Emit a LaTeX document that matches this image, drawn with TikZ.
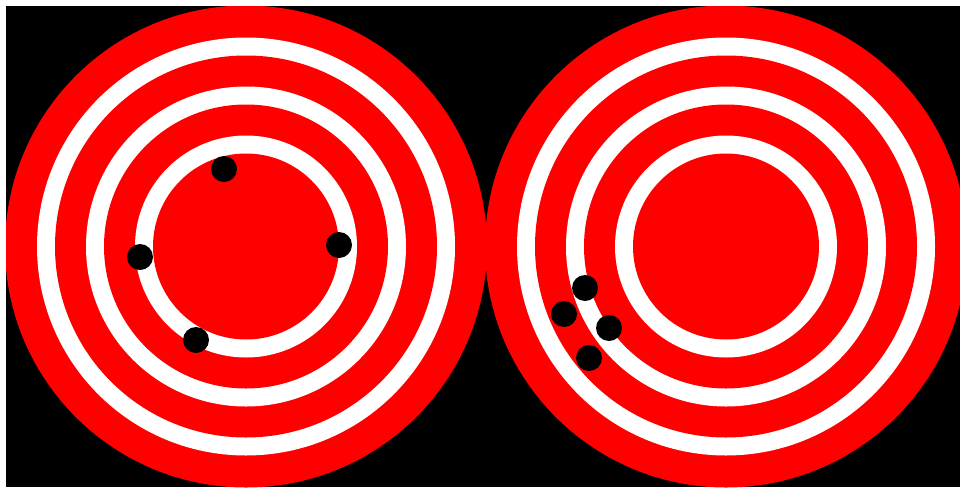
\documentclass[tikz,border=0pt]{standalone}
\usepackage{tikz}
\definecolor{cible}{RGB}{255,0,0}
\definecolor{impact}{RGB}{0,0,0}
\definecolor{fond}{RGB}{0,0,0}

\begin{document}
\begin{tikzpicture}[x=0.02cm,y=-0.02cm]
  \fill[white](0,0) rectangle (960,487);
  \fill[fond](6,6) rectangle (960,487);
  \begin{scope}
    \clip(6,6) rectangle (960,487);
    \foreach \cx in {246,726}{
      \fill[cible](\cx,246.5) circle[radius=241];
      \foreach \rr in {209,160,111}{
        \fill[white](\cx,246.5) circle[radius=\rr];
        \fill[cible](\cx,246.5) circle[radius=\rr-18];}
    }
  \end{scope}
  \foreach \px/\py in {224/169,140/257,339/245,196/340,585/288,564/314,609/328,589/358}{
    \fill[impact](\px,\py) circle[radius=13];}
\end{tikzpicture}
\end{document}
